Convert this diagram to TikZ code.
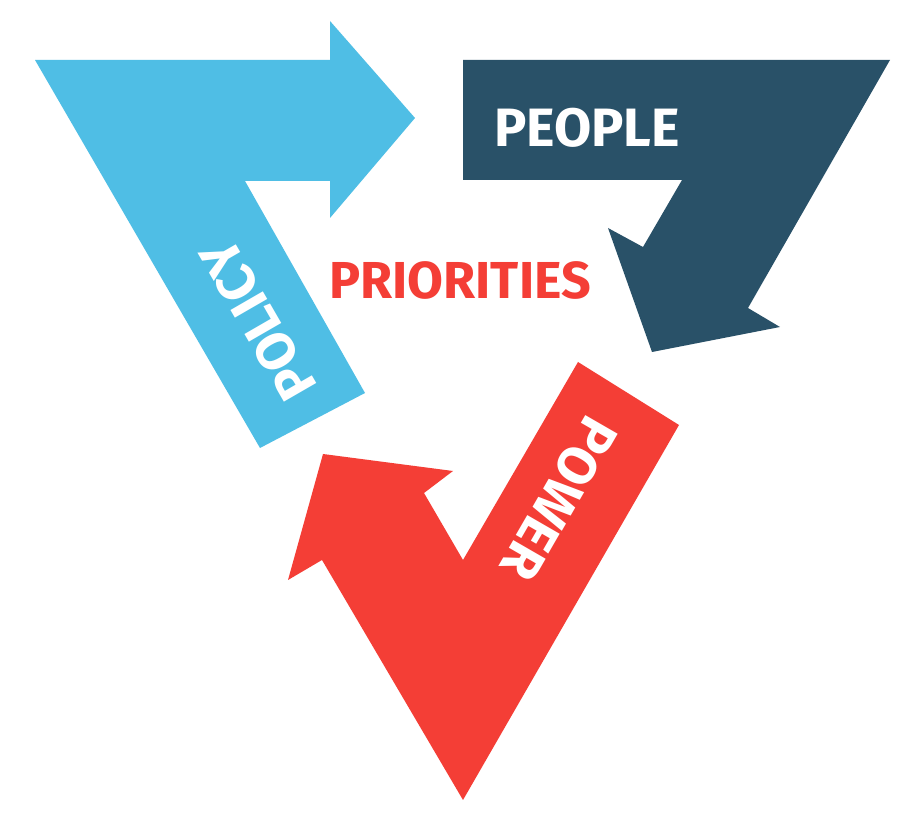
\documentclass[tikz,border=0pt]{standalone}
\usepackage{fontspec}
\setmainfont{Fira Sans}
\usepackage{tikz}
\usetikzlibrary{positioning}
\definecolor{bleu}{RGB}{79,190,229}
\definecolor{marine}{RGB}{41,81,104}
\definecolor{rouge}{RGB}{244,62,54}
\tikzstyle{fleche}=[draw=none]
\tikzstyle{etiquette}=[text=white,font=\fontsize{27}{27}\selectfont\bfseries,inner sep=0pt]
\tikzstyle{titre}=[text=rouge,font=\fontsize{26}{26}\selectfont\bfseries,inner sep=0pt]

\begin{document}
\begin{tikzpicture}[x=0.5pt,y=-0.5pt]
\useasboundingbox (0,0) rectangle (923,828);
\fill[white] (0,0) rectangle (923,828);
%Les trois fleches
\fill[fleche,bleu] (35,60) -- (330,60) -- (330,21) -- (415,118) -- (330,218)
  -- (330,181) -- (245,181) -- (365,393) -- (260,448) -- cycle;
\fill[fleche,marine] (463,60) -- (890,60) -- (748,308) -- (780,327) -- (652,352)
  -- (608,228) -- (643,247) -- (682,180) -- (463,180) -- cycle;
\fill[fleche,rouge] (578,362) -- (679,425) -- (463,800) -- (322,560) -- (288,580)
  -- (323,454) -- (453,471) -- (424,493) -- (463,560) -- cycle;
%Les textes
\node[etiquette] (people) at (587,128) {PEOPLE};
\node[etiquette,rotate=120] (policy) at (258,320) {POLICY};
\node[etiquette,rotate=-120] (power) at (559,499) {POWER};
\node[titre] (priorities) at (460,280) {PRIORITIES};
\end{tikzpicture}
\end{document}
